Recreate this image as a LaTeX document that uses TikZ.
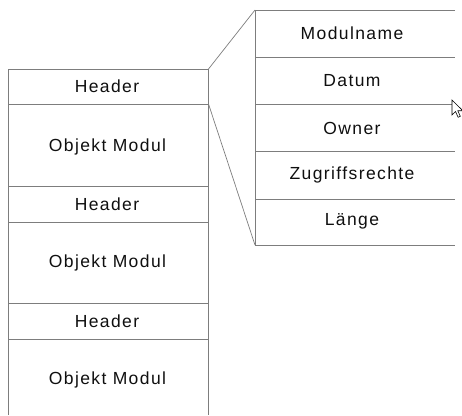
\documentclass[tikz,border=0pt]{standalone}
\usepackage{fontspec}
\setmainfont{Liberation Sans}[LetterSpace=8]
\definecolor{rulegray}{RGB}{125,125,125}
\definecolor{inkgray}{RGB}{15,15,15}
\begin{document}
\begin{tikzpicture}[x=1pt,y=-1pt,
  rule/.style={draw=rulegray,line width=0.9pt},
  label/.style={font=\fontsize{17.5}{19}\selectfont,text=inkgray,inner sep=0pt,anchor=center}]
\useasboundingbox (0,0) rectangle (462,415);
% left stack: headers and object modules
\coordinate (L0) at (8.7,69);
\coordinate (R0) at (208.5,69);
\coordinate (R1) at (208.5,104);
\draw[rule] (8.7,415) -- (L0) -- (R0) -- (208.5,415);
\foreach \yy in {104,186,222,303,339}
  \draw[rule] (8.7,\yy) -- (208.5,\yy);
\node[label] (h1) at (107,86.5) {Header};
\node[label] (m1) at (107.5,146.5) {Objekt Modul};
\node[label] (h2) at (107,204.5) {Header};
\node[label] (m2) at (107.5,263) {Objekt Modul};
\node[label] (h3) at (107,321) {Header};
\node[label] (m3) at (107.5,380) {Objekt Modul};
% right stack: fields of one header
\coordinate (T0) at (255,10);
\coordinate (T1) at (255,245);
\draw[rule] (455,10) -- (T0) -- (T1) -- (455,245);
\foreach \yy in {57,104,151,199}
  \draw[rule] (255,\yy) -- (455,\yy);
\node[label] (f1) at (352,33.5) {Modulname};
\node[label] (f2) at (352,80.5) {Datum};
\node[label] (f3) at (352,128) {Owner};
\node[label] (f4) at (352,175) {Zugriffsrechte};
\node[label] (f5) at (352,221.5) {Länge};
% zoom lines from the first header to the field list
\draw[rule,line width=0.7pt] (R0) -- (T0);
\draw[rule,line width=0.7pt] (R1) -- (T1);
% mouse pointer
\draw[black,fill=white,line width=0.6pt,line join=miter]
  (452,100) -- ++(0,15) -- ++(3.5,-3.5) -- ++(2.6,5.8) -- ++(2.2,-1)
  -- ++(-2.5,-5.6) -- ++(5,0) -- cycle;
\end{tikzpicture}
\end{document}
